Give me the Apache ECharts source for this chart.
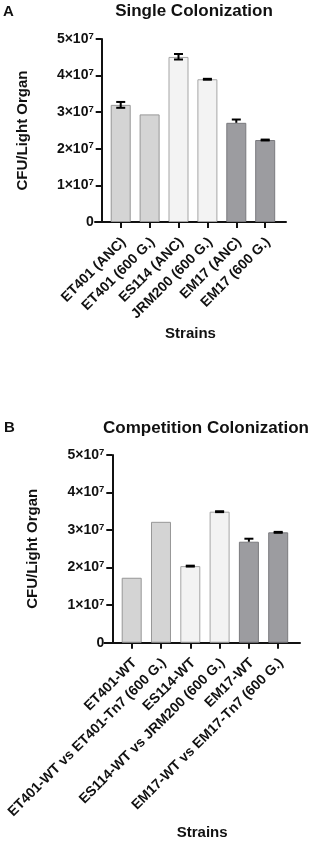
<!DOCTYPE html>
<html>
<head>
<meta charset="utf-8">
<script src="https://cdn.jsdelivr.net/npm/echarts@6/dist/echarts.min.js"></script>
<style>
html,body{margin:0;padding:0;background:#fff;}
#chart{width:319px;height:842px;}
</style>
</head>
<body>
<div id="chart"></div>
<script>
// ---- data ----
const catsA = ['ET401 (ANC)', 'ET401 (600 G.)', 'ES114 (ANC)', 'JRM200 (600 G.)', 'EM17 (ANC)', 'EM17 (600 G.)'];
const meanA = [3.20e7, 2.94e7, 4.51e7, 3.90e7, 2.71e7, 2.24e7];
const errUpA = [0.08e7, 0, 0.08e7, 0.012e7, 0.09e7, 0.012e7];
const errDownA = [0.08e7, 0, 0.07e7, 0.012e7, 0, 0.012e7];

const catsB = ['ET401-WT', 'ET401-WT vs ET401-Tn7 (600 G.)', 'ES114-WT', 'ES114-WT vs JRM200 (600 G.)', 'EM17-WT', 'EM17-WT vs EM17-Tn7 (600 G.)'];
const meanB = [1.73e7, 3.22e7, 2.04e7, 3.49e7, 2.69e7, 2.94e7];
const errUpB = [0, 0, 0.012e7, 0.012e7, 0.08e7, 0.012e7];
const errDownB = [0, 0, 0.012e7, 0.012e7, 0, 0.012e7];

// ---- styles ----
const FONT = '"Liberation Sans", Arial, Helvetica, sans-serif';
const fills = ['#d4d4d4', '#d4d4d4', '#f3f3f3', '#f3f3f3', '#9c9ca0', '#9c9ca0'];
const borders = ['#979797', '#979797', '#a5a5a5', '#a5a5a5', '#7a7a7e', '#7a7a7e'];
const LABEL_SHIFT = 0.1; // label anchor shift (in category units) to the right of the tick

const chart = echarts.init(document.getElementById('chart'), null, {renderer: 'canvas'});

function yLabel(v) {
  if (v === 0) return '{b|0}';
  return '{b|' + Math.round(v / 1e7) + '×10}{s|7}';
}

function makeX(idx, cats, min, max, gap) {
  return {
    gridIndex: idx, type: 'value', min: min, max: max,
    splitLine: {show: false},
    axisLine: {show: true, onZero: false, lineStyle: {color: '#111', width: 2}},
    axisTick: {show: true, length: 6, lineStyle: {color: '#111', width: 2}, customValues: cats.map((c, i) => i)},
    axisLabel: {
      show: true, rotate: 45, margin: 18, customValues: cats.map((c, i) => i + LABEL_SHIFT),
      formatter: v => cats[Math.round(v - LABEL_SHIFT)] || '',
      color: '#111', fontSize: 14, fontWeight: 'bold', fontFamily: FONT
    },
    name: 'Strains', nameLocation: 'middle', nameGap: gap,
    nameTextStyle: {color: '#111', fontSize: 15, fontWeight: 'bold', fontFamily: FONT}
  };
}

function makeY(idx, off) {
  return {
    gridIndex: idx, type: 'value', min: 0, max: 5e7, interval: 1e7, offset: off,
    splitLine: {show: false},
    axisLine: {show: true, onZero: false, lineStyle: {color: '#111', width: 2}},
    axisTick: {show: true, length: 6, lineStyle: {color: '#111', width: 2}},
    axisLabel: {
      margin: 8, formatter: yLabel,
      rich: {
        b: {color: '#111', fontSize: 14, fontWeight: 'bold', fontFamily: FONT, lineHeight: 16},
        s: {color: '#111', fontSize: 9.5, fontWeight: 'bold', fontFamily: FONT, verticalAlign: 'top', lineHeight: 9}
      }
    },
    name: 'CFU/Light Organ', nameLocation: 'middle', nameGap: 71.5,
    nameTextStyle: {color: '#111', fontSize: 15, fontWeight: 'bold', fontFamily: FONT}
  };
}

function barSeries(idx, means) {
  return {
    type: 'bar', xAxisIndex: idx, yAxisIndex: idx, barWidth: 20,
    data: means.map((v, i) => ({
      value: [i, v],
      itemStyle: {color: fills[i], borderColor: borders[i], borderWidth: 1}
    })),
    silent: true, z: 2
  };
}

function errSeries(idx, means, up, down) {
  return {
    type: 'custom', xAxisIndex: idx, yAxisIndex: idx, z: 3, silent: true,
    encode: {x: 0, y: [1, 2]},
    data: means.map((v, i) => [i, v + up[i], v - down[i], v]),
    renderItem: function (params, api) {
      const x = api.value(0);
      const hi = api.coord([x, api.value(1)]);
      const lo = api.coord([x, api.value(2)]);
      const w = 4.5;
      const st = {stroke: '#000', lineWidth: 2, fill: null};
      const children = [];
      if (hi[1] !== lo[1]) {
        children.push({type: 'line', shape: {x1: hi[0], y1: hi[1], x2: lo[0], y2: lo[1]}, style: st});
        children.push({type: 'line', shape: {x1: hi[0] - w, y1: hi[1], x2: hi[0] + w, y2: hi[1]}, style: st});
        if (api.value(2) < api.value(3)) {
          children.push({type: 'line', shape: {x1: lo[0] - w, y1: lo[1], x2: lo[0] + w, y2: lo[1]}, style: st});
        }
      }
      return {type: 'group', children: children};
    }
  };
}

const titleStyle = {color: '#111', fontSize: 17, fontWeight: 'bold', fontFamily: FONT};
const letterStyle = {color: '#111', fontSize: 15, fontWeight: 'bold', fontFamily: FONT};

chart.setOption({
  animation: false,
  backgroundColor: '#fff',
  title: [
    {text: 'A', left: 3, top: 4, textStyle: letterStyle, padding: 0},
    {text: 'Single Colonization', left: 194, textAlign: 'center', top: 3, textStyle: titleStyle, padding: 0},
    {text: 'B', left: 4, top: 420, textStyle: letterStyle, padding: 0},
    {text: 'Competition Colonization', left: 206, textAlign: 'center', top: 420, textStyle: titleStyle, padding: 0}
  ],
  grid: [
    {left: 95, top: 39, width: 191, height: 183, containLabel: false},
    {left: 104.3, top: 455, width: 195.7, height: 187.7, containLabel: false}
  ],
  xAxis: [
    makeX(0, catsA, -0.89, 5.72, 104),
    makeX(1, catsB, -0.935, 5.744, 183)
  ],
  yAxis: [
    makeY(0, -6.7),
    makeY(1, -8)
  ],
  series: [
    barSeries(0, meanA),
    errSeries(0, meanA, errUpA, errDownA),
    barSeries(1, meanB),
    errSeries(1, meanB, errUpB, errDownB)
  ]
});
</script>
</body>
</html>
